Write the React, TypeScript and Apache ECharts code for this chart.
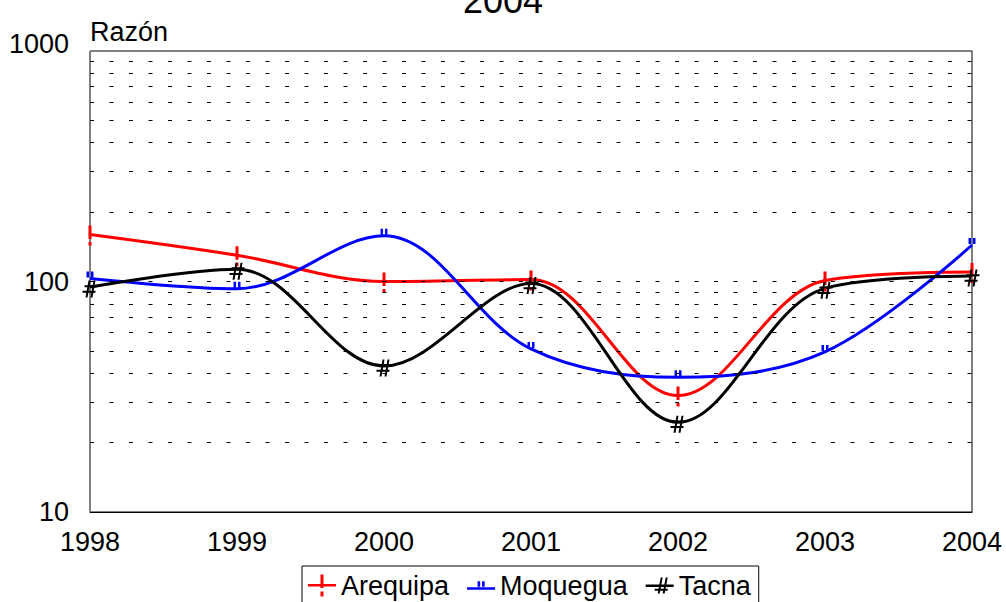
import React, { useEffect, useRef } from 'react';
import * as echarts from 'echarts';

const FONT = '"Liberation Sans", Arial, sans-serif';

const years = ['1998', '1999', '2000', '2001', '2002', '2003', '2004'];
const arequipa = [160, 130, 100, 102, 32, 101, 110];
const moquegua = [103, 93, 158, 51, 38.4, 49.5, 144];
const tacna = [94.6, 113, 43, 98, 24.5, 93.4, 105.6];
const gridValues = [20, 30, 40, 50, 60, 70, 80, 90, 100, 200, 300, 400, 500, 600, 700, 800, 900];
const seriesNames = ['Arequipa', 'Moquegua', 'Tacna'];

const RED_MARK = 'path://M0,0h3v13.5h-3z M0,16.5h3v3.5h-3z';
const BLUE_MARK = 'path://M0,0h2.6v6h-2.6z M4.6,0h2.6v6h-2.6z';
const BLACK_MARK = 'path://M6,0L8,0L5,17L3,17Z M11,0L13,0L10,17L8,17Z M2,4.6H15V6.6H2Z M0,10.2H13V12.2H0Z';

const RED_ICON = 'path://M0,9.5h28v2.5h-28z M12.5,0h3v13.5h-3z M12.5,17h3v5h-3z';
const BLUE_ICON = 'path://M0,6h28v2.5h-28z M10.5,0h2.6v5.5h-2.6z M15,0h2.6v5.5h-2.6z';
const BLACK_ICON = 'path://M0,7h28v2.5h-28z M15,0L17,0L14,16L12,16Z M20,0L22,0L19,16L17,16Z M9,11.2H22V13.2H9Z';

export default function App() {
  const ref = useRef<HTMLDivElement>(null);
  useEffect(() => {
    if (!ref.current) return;
    const chart = echarts.init(ref.current, undefined, { renderer: 'svg' });
    const mk = (name: string, data: number[], color: string, symbol: string, size: number[], offset: number[]) => ({
      name,
      type: 'line',
      data,
      smooth: 0.35,
      symbol,
      symbolSize: size,
      symbolKeepAspect: false,
      symbolOffset: offset,
      showAllSymbol: true,
      lineStyle: { color, width: 3 },
      itemStyle: { color, borderWidth: 0 },
      emphasis: { disabled: true },
      z: 3,
    });
    chart.setOption({
      animation: false,
      backgroundColor: '#ffffff',
      textStyle: { fontFamily: FONT },
      title: {
        text: '2004',
        left: 'center',
        top: -23,
        textStyle: { fontSize: 36, fontWeight: 'normal', color: '#000', fontFamily: FONT },
      },
      legend: {
        data: [
          { name: seriesNames[0], icon: RED_ICON },
          { name: seriesNames[1], icon: BLUE_ICON },
          { name: seriesNames[2], icon: BLACK_ICON },
        ],
        left: 302,
        top: 566,
        padding: [6, 8, 6, 6],
        itemWidth: 28,
        itemHeight: 22,
        itemGap: 18,
        borderColor: '#000',
        borderWidth: 1,
        selectedMode: false,
        textStyle: { fontSize: 27, color: '#000', fontFamily: FONT },
      },
      grid: {
        left: 90,
        right: 34,
        top: 51,
        bottom: 90,
        show: true,
        borderColor: '#000',
        borderWidth: 1,
      },
      xAxis: {
        type: 'category',
        data: years,
        boundaryGap: false,
        axisLine: { lineStyle: { color: '#000', width: 1 } },
        axisTick: { show: false },
        splitLine: { show: false },
        axisLabel: { fontSize: 27, color: '#000', margin: 16, fontFamily: FONT },
      },
      yAxis: {
        type: 'log',
        logBase: 10,
        min: 10,
        max: 1000,
        name: 'Razón',
        nameLocation: 'end',
        nameGap: 6,
        nameTextStyle: { fontSize: 27, color: '#000', align: 'left', fontFamily: FONT },
        axisLine: { show: true, lineStyle: { color: '#808080', width: 1 } },
        axisTick: { show: false },
        splitLine: { show: false },
        axisLabel: {
          fontSize: 27,
          color: '#000',
          margin: 21,
          fontFamily: FONT,
          formatter: (v: number) => (Math.round(v) === 1000 ? '{t|1000}' : String(Math.round(v))),
          rich: { t: { fontSize: 27, color: '#000', fontFamily: FONT, padding: [0, 0, 14, 0] } },
        },
      },
      series: [
        {
          name: 'gridlines',
          type: 'line',
          data: [],
          silent: true,
          z: 1,
          markLine: {
            silent: true,
            symbol: ['none', 'none'],
            label: { show: false },
            emphasis: { disabled: true },
            lineStyle: { color: '#000', width: 1, type: [4, 15.5] },
            data: gridValues.map((v) => ({ yAxis: v })),
          },
        },
        mk(seriesNames[0], arequipa, '#ff0000', RED_MARK, [3, 20], [0, 1]),
        mk(seriesNames[1], moquegua, '#0000ff', BLUE_MARK, [7, 6], [0, -4]),
        mk(seriesNames[2], tacna, '#000000', BLACK_MARK, [15, 17], [0, 2]),
      ],
    });
    return () => chart.dispose();
  }, []);
  return <div ref={ref} style={{ position: 'fixed', left: 0, top: 0, width: 1006, height: 602 }} />;
}
